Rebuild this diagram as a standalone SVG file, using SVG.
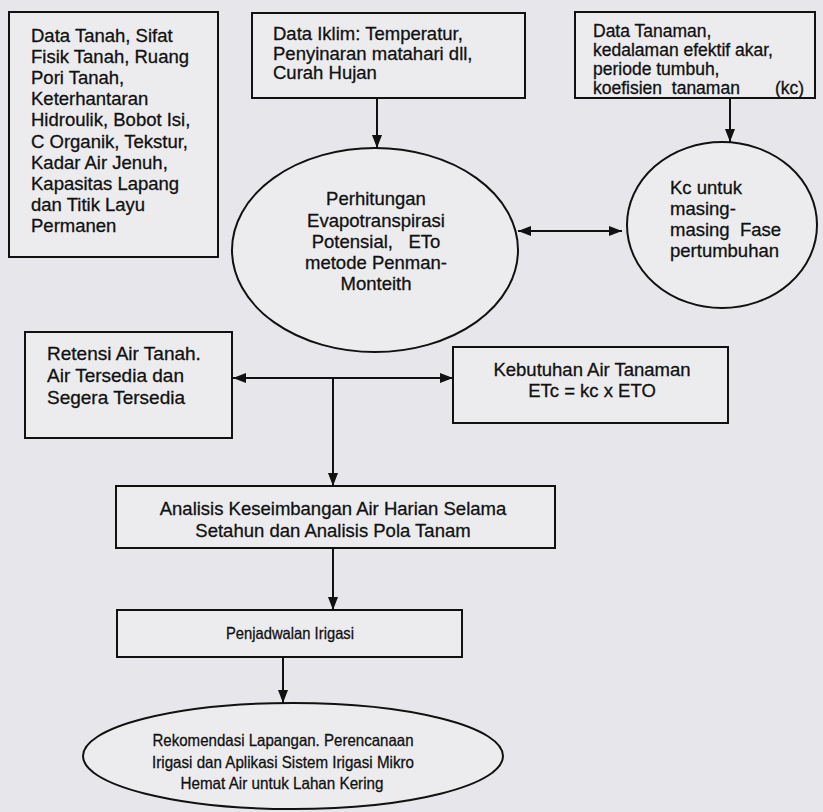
<svg xmlns="http://www.w3.org/2000/svg" width="823" height="812" viewBox="0 0 823 812">
<style>
.shape{fill:#ececef;stroke:#111;stroke-width:2}
.t{font-family:"Liberation Sans",Arial,sans-serif;font-size:18.5px;fill:#111;stroke:#111;stroke-width:0.3;white-space:pre}
.s{font-size:16.5px}
.m{font-size:17.5px}
.c{text-anchor:middle}
.line{stroke:#111;stroke-width:2;fill:none}
</style>
<defs>
<marker id="ah" viewBox="0 0 13 10" refX="13" refY="5" markerWidth="13" markerHeight="10" markerUnits="userSpaceOnUse" orient="auto-start-reverse">
<path d="M0,0 L13,5 L0,10 Z" fill="#111"/>
</marker>
</defs>
<rect x="0" y="0" width="823" height="812" fill="#e7e7eb"/>

<g id="data-tanah">
<rect class="shape" x="9" y="12" width="209" height="245"/>
<text class="t" x="31" y="41.5">Data Tanah, Sifat</text>
<text class="t" x="31" y="62.7">Fisik Tanah, Ruang</text>
<text class="t" x="31" y="83.9">Pori Tanah,</text>
<text class="t" x="31" y="105.1">Keterhantaran</text>
<text class="t" x="31" y="126.3">Hidroulik, Bobot Isi,</text>
<text class="t" x="31" y="147.5">C Organik, Tekstur,</text>
<text class="t" x="31" y="168.7">Kadar Air Jenuh,</text>
<text class="t" x="31" y="189.9">Kapasitas Lapang</text>
<text class="t" x="31" y="211.1">dan Titik Layu</text>
<text class="t" x="31" y="232.3">Permanen</text>
</g>

<g id="data-iklim">
<rect class="shape" x="252" y="13" width="273" height="85"/>
<text class="t" x="273" y="40">Data Iklim: Temperatur,</text>
<text class="t" x="273" y="59.5">Penyinaran matahari dll,</text>
<text class="t" x="273" y="79">Curah Hujan</text>
</g>

<g id="data-tanaman">
<rect class="shape" x="575" y="12" width="240" height="86"/>
<text class="t m" x="593" y="36.5">Data Tanaman,</text>
<text class="t m" x="593" y="55.5">kedalaman efektif akar,</text>
<text class="t m" x="593" y="74.5">periode tumbuh,</text>
<text class="t m" x="593" y="93.5">koefisien  tanaman<tspan x="775">(kc)</tspan></text>
</g>

<g id="eto">
<ellipse class="shape" cx="375" cy="250" rx="143" ry="102"/>
<text class="t c" x="376" y="204.5">Perhitungan</text>
<text class="t c" x="376" y="226.5">Evapotranspirasi</text>
<text class="t c" x="376" y="247.5">Potensial,   ETo</text>
<text class="t c" x="376" y="268.5">metode Penman-</text>
<text class="t c" x="376" y="289.5">Monteith</text>
</g>

<g id="kc">
<ellipse class="shape" cx="722" cy="225" rx="95" ry="83"/>
<text class="t" x="670" y="193.5">Kc untuk</text>
<text class="t" x="670" y="214.5">masing-</text>
<text class="t" x="670" y="235.5">masing  Fase</text>
<text class="t" x="670" y="256.5">pertumbuhan</text>
</g>

<g id="retensi">
<rect class="shape" x="25" y="332" width="207" height="106"/>
<text class="t" x="47" y="359.5" style="font-size:19px">Retensi Air Tanah.</text>
<text class="t" x="47" y="381.5" style="font-size:19px">Air Tersedia dan</text>
<text class="t" x="47" y="403.5" style="font-size:19px">Segera Tersedia</text>
</g>

<g id="kebutuhan">
<rect class="shape" x="453" y="347" width="275" height="76"/>
<text class="t c" x="592" y="375.5">Kebutuhan Air Tanaman</text>
<text class="t c" x="592" y="396.5">ETc = kc x ETO</text>
</g>

<g id="analisis">
<rect class="shape" x="116" y="486" width="439" height="62"/>
<text class="t c" x="333" y="514.5">Analisis Keseimbangan Air Harian Selama</text>
<text class="t c" x="333" y="536.5">Setahun dan Analisis Pola Tanam</text>
</g>

<g id="penjadwalan">
<rect class="shape" x="117" y="610" width="345" height="47"/>
<text class="t s c" x="290" y="639" textLength="128" lengthAdjust="spacingAndGlyphs">Penjadwalan Irigasi</text>
</g>

<g id="rekomendasi">
<ellipse class="shape" cx="293" cy="756" rx="210" ry="53"/>
<text class="t s c" x="283" y="746" textLength="261" lengthAdjust="spacingAndGlyphs">Rekomendasi Lapangan. Perencanaan</text>
<text class="t s c" x="283" y="768" textLength="262" lengthAdjust="spacingAndGlyphs">Irigasi dan Aplikasi Sistem Irigasi Mikro</text>
<text class="t s c" x="282" y="789" textLength="203" lengthAdjust="spacingAndGlyphs">Hemat Air untuk Lahan Kering</text>
</g>

<g id="connectors">
<line class="line" x1="377" y1="98" x2="377" y2="148" marker-end="url(#ah)"/>
<line class="line" x1="730" y1="98" x2="730" y2="142" marker-end="url(#ah)"/>
<line class="line" x1="518" y1="231" x2="622" y2="231" marker-start="url(#ah)" marker-end="url(#ah)"/>
<line class="line" x1="233" y1="378" x2="453" y2="378" marker-start="url(#ah)" marker-end="url(#ah)"/>
<line class="line" x1="333" y1="378" x2="333" y2="486" marker-end="url(#ah)"/>
<line class="line" x1="333" y1="548" x2="333" y2="610" marker-end="url(#ah)"/>
<line class="line" x1="283" y1="657" x2="283" y2="703" marker-end="url(#ah)"/>
</g>
</svg>
